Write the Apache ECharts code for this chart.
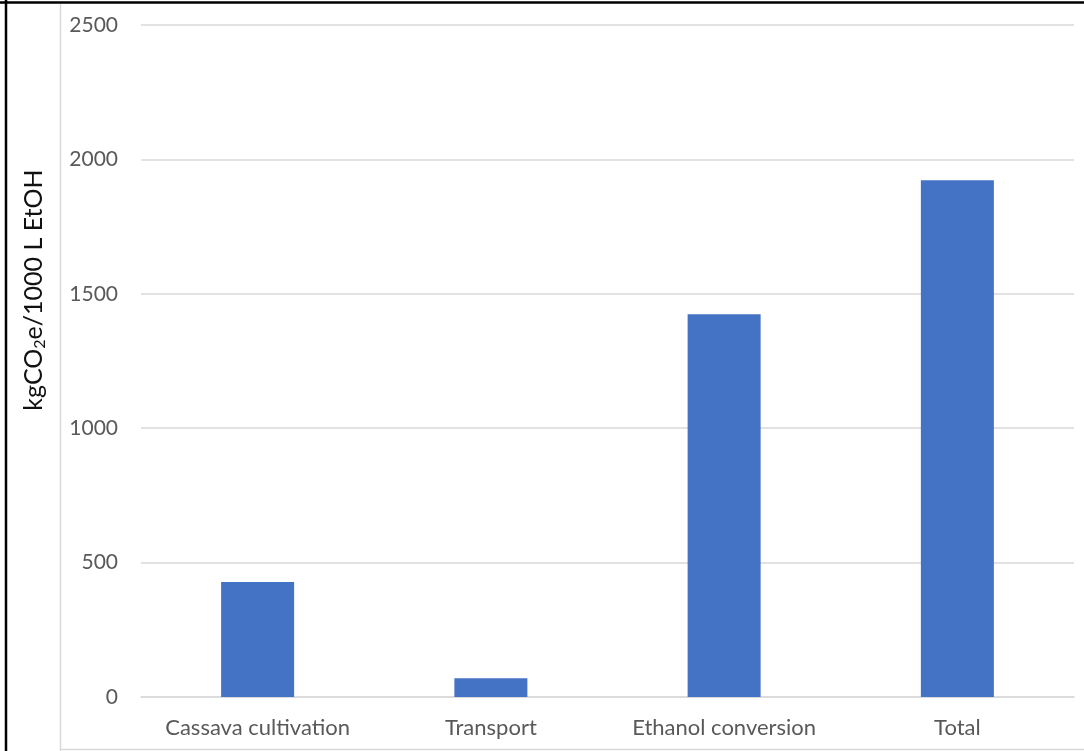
<!DOCTYPE html>
<html>
<head>
<meta charset="utf-8">
<style>
  html, body { margin: 0; padding: 0; background: #fff; }
  #chart { width: 1084px; height: 751px; }
</style>
<script src="https://cdn.jsdelivr.net/npm/echarts@6/dist/echarts.min.js"></script>
</head>
<body>
<div id="chart"></div>
<script>
// Life-cycle emissions per stage (kgCO2e per 1000 L ethanol)
const categories = ['Cassava cultivation', 'Transport', 'Ethanol conversion', 'Total'];
const emissions = [428, 70, 1424, 1922];
const yTicks = [0, 500, 1000, 1500, 2000, 2500];

const chart = echarts.init(document.getElementById('chart'), null, { renderer: 'canvas' });

const labelFont = 'Lato, "Open Sans", sans-serif';

chart.setOption({
  animation: false,
  backgroundColor: '#ffffff',
  grid: { left: 141, right: 10, top: 25, bottom: 54 },
  xAxis: {
    type: 'category',
    data: categories,
    axisLine: { show: true, lineStyle: { color: '#d9d9d9', width: 1.5 } },
    axisTick: { show: false },
    axisLabel: {
      color: '#595959', fontSize: 22, fontFamily: labelFont, margin: 20,
      interval: 0, hideOverlap: false
    }
  },
  yAxis: {
    type: 'value',
    min: yTicks[0],
    max: yTicks[yTicks.length - 1],
    interval: yTicks[1] - yTicks[0],
    axisLine: { show: false },
    axisTick: { show: false },
    splitLine: { lineStyle: { color: '#d9d9d9', width: 1.5 } },
    axisLabel: {
      color: '#595959', fontSize: 21, fontFamily: labelFont, margin: 23,
      formatter: (v) => String(v)
    }
  },
  series: [{
    type: 'bar',
    data: emissions,
    barWidth: 73,
    itemStyle: { color: '#4472c4' }
  }],
  graphic: [
    // axis title, rotated, with subscript 2
    {
      type: 'text',
      x: 34,
      y: 290,
      rotation: Math.PI / 2,
      style: {
        text: '{a|kgCO}{s|2}{a|e/1000 L EtOH}',
        align: 'center',
        verticalAlign: 'middle',
        rich: {
          a: { fontSize: 25, fontFamily: labelFont, fill: '#111111' },
          s: { fontSize: 16, fontFamily: labelFont, fill: '#111111', padding: [12, 0, 0, 0] }
        }
      }
    },
    // frame lines
    { type: 'line', shape: { x1: 6, y1: 0, x2: 6, y2: 751 }, style: { stroke: '#000', lineWidth: 2.5 } },
    { type: 'line', shape: { x1: 0, y1: 2.5, x2: 1084, y2: 2.5 }, style: { stroke: '#000', lineWidth: 2.5 } },
    { type: 'line', shape: { x1: 60.5, y1: 4, x2: 60.5, y2: 751 }, style: { stroke: '#d9d9d9', lineWidth: 1.5 } },
    { type: 'line', shape: { x1: 60, y1: 749.5, x2: 1084, y2: 749.5 }, style: { stroke: '#d9d9d9', lineWidth: 1.5 } }
  ]
});
</script>
</body>
</html>
